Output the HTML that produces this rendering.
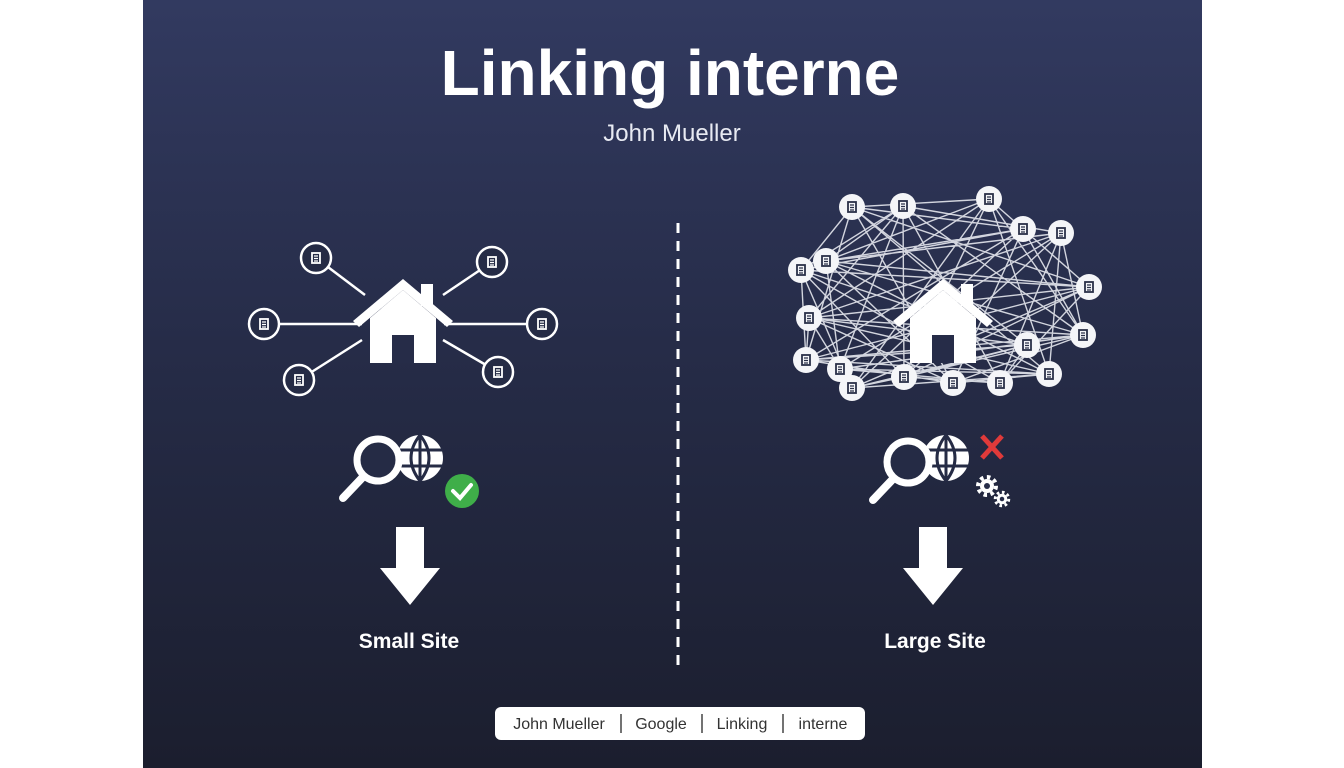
<!DOCTYPE html>
<html><head><meta charset="utf-8"><style>
html,body{margin:0;padding:0;width:1344px;height:768px;overflow:hidden;background:#fff}
.panel{position:absolute;left:143px;top:0;width:1059px;height:768px;background:linear-gradient(180deg,#323a60 0%,#262c48 45%,#1b1e2e 100%)}
svg{position:absolute;left:0;top:0}
text{font-family:"Liberation Sans",sans-serif}
</style></head><body>
<div class="panel"></div>
<svg width="1344" height="768" viewBox="0 0 1344 768">
<defs>
<g id="doc"><rect x="-4" y="-5" width="8" height="10" fill="none" stroke="currentColor" stroke-width="1.8"/><path d="M-2 -2H2M-2 0.5H2M-2 3H2" stroke="currentColor" stroke-width="1.2"/></g>
<g id="house"><path fill="#fff" d="M-50 0 L0 -42 L50 0 L44 6 L0 -31 L-44 6 Z"/><rect fill="#fff" x="18" y="-37" width="12" height="22"/><path fill="#fff" d="M-33 -3 L0 -31 L33 -3 V42 H-33 Z"/><rect x="-11" y="14" width="22" height="28" fill="#262c48"/></g>
<g id="gear" fill="#fff"><circle r="7"/><circle r="9" fill="none" stroke="#fff" stroke-width="4" stroke-dasharray="3.5,3.5"/><circle r="3" fill="#262c48"/></g>
</defs>
<text x="670" y="95" text-anchor="middle" font-size="64" font-weight="bold" fill="#fff">Linking interne</text>
<text x="672" y="141" text-anchor="middle" font-size="24" fill="#e8eaf2">John Mueller</text>
<line x1="678" y1="223" x2="678" y2="668" stroke="#fff" stroke-width="3" stroke-dasharray="10,8"/>
<g stroke="#fff" stroke-width="2.5">
<line x1="316" y1="258" x2="365" y2="295"/><line x1="492" y1="262" x2="443" y2="295"/>
<line x1="264" y1="324" x2="362" y2="324"/><line x1="542" y1="324" x2="444" y2="324"/>
<line x1="299" y1="380" x2="362" y2="340"/><line x1="498" y1="372" x2="443" y2="340"/>
</g>
<g fill="#252b45" stroke="#fff" stroke-width="2.5">
<circle cx="316" cy="258" r="15"/><circle cx="492" cy="262" r="15"/><circle cx="264" cy="324" r="15"/><circle cx="542" cy="324" r="15"/><circle cx="299" cy="380" r="15"/><circle cx="498" cy="372" r="15"/>
</g>
<g color="#fff"><use href="#doc" x="316" y="258"/><use href="#doc" x="492" y="262"/><use href="#doc" x="264" y="324"/><use href="#doc" x="542" y="324"/><use href="#doc" x="299" y="380"/><use href="#doc" x="498" y="372"/></g>
<use href="#house" x="403" y="321"/>
<circle cx="420" cy="458" r="23" fill="#fff"/>
<g stroke="#252b45" stroke-width="3" fill="none"><line x1="420" y1="435" x2="420" y2="481"/><line x1="398" y1="450" x2="443" y2="450"/><line x1="398" y1="466" x2="443" y2="466"/><path d="M420 435 Q402 458 420 481 M420 435 Q438 458 420 481"/></g>
<circle cx="378" cy="460" r="21" fill="#252b45" stroke="#fff" stroke-width="7"/>
<line x1="362" y1="478" x2="343" y2="498" stroke="#fff" stroke-width="8" stroke-linecap="round"/>
<circle cx="462" cy="491" r="17" fill="#3fae49"/>
<path d="M453 491 L460 498 L471 485" fill="none" stroke="#fff" stroke-width="4" stroke-linecap="round"/>
<path d="M396 527 H424 V568 H440 L410 605 L380 568 H396 Z" fill="#fff"/>
<text x="409" y="648" text-anchor="middle" font-size="21" font-weight="bold" fill="#fff">Small Site</text>
<path stroke="#e6e8ee" stroke-width="1.4" fill="none" opacity="0.9" d="
M852 207L1023 229M852 207L1089 287M852 207L953 383M852 207L806 360M852 207L1049 374M852 207L989 199M852 207L1027 345
M903 206L801 270M903 206L1083 335M903 206L840 369M903 206L1000 383M903 206L1061 233M903 206L809 318M903 206L904 377
M989 199L826 261M989 199L809 318M989 199L852 388M989 199L1083 335M989 199L1049 374M989 199L904 377M989 199L1089 287
M1023 229L801 270M1023 229L806 360M1023 229L953 383M1023 229L1083 335M1023 229L852 388M1023 229L826 261
M1061 233L809 318M1061 233L840 369M1061 233L1000 383M1061 233L1049 374M1061 233L826 261M1061 233L904 377
M801 270L1089 287M801 270L1027 345M801 270L904 377M801 270L1000 383M801 270L852 388M801 270L806 360
M826 261L1083 335M826 261L1049 374M826 261L953 383M826 261L840 369M826 261L1089 287
M1089 287L809 318M1089 287L806 360M1089 287L904 377M1089 287L1000 383M1089 287L852 388
M809 318L1083 335M809 318L1049 374M809 318L953 383M809 318L1027 345M809 318L852 388
M1083 335L806 360M1083 335L840 369M1083 335L904 377M1083 335L953 383
M1027 345L806 360M1027 345L852 388M1027 345L904 377M1027 345L1000 383
M806 360L1049 374M806 360L953 383M840 369L1000 383M840 369L1049 374M852 388L1049 374M852 388L904 377M904 377L1000 383M953 383L1049 374
M826 261L903 206M801 270L852 207M1023 229L1089 287M1061 233L1083 335M809 318L806 360M840 369L852 388"/>
<use href="#house" x="943" y="321"/>
<g fill="#f4f5f8">
<circle cx="852" cy="207" r="13"/><circle cx="903" cy="206" r="13"/><circle cx="989" cy="199" r="13"/><circle cx="1023" cy="229" r="13"/><circle cx="1061" cy="233" r="13"/><circle cx="801" cy="270" r="13"/><circle cx="826" cy="261" r="13"/><circle cx="1089" cy="287" r="13"/><circle cx="809" cy="318" r="13"/><circle cx="1083" cy="335" r="13"/><circle cx="1027" cy="345" r="13"/><circle cx="806" cy="360" r="13"/><circle cx="840" cy="369" r="13"/><circle cx="852" cy="388" r="13"/><circle cx="904" cy="377" r="13"/><circle cx="953" cy="383" r="13"/><circle cx="1000" cy="383" r="13"/><circle cx="1049" cy="374" r="13"/>
</g>
<g color="#2a3048"><use href="#doc" x="852" y="207"/><use href="#doc" x="903" y="206"/><use href="#doc" x="989" y="199"/><use href="#doc" x="1023" y="229"/><use href="#doc" x="1061" y="233"/><use href="#doc" x="801" y="270"/><use href="#doc" x="826" y="261"/><use href="#doc" x="1089" y="287"/><use href="#doc" x="809" y="318"/><use href="#doc" x="1083" y="335"/><use href="#doc" x="1027" y="345"/><use href="#doc" x="806" y="360"/><use href="#doc" x="840" y="369"/><use href="#doc" x="852" y="388"/><use href="#doc" x="904" y="377"/><use href="#doc" x="953" y="383"/><use href="#doc" x="1000" y="383"/><use href="#doc" x="1049" y="374"/></g>
<circle cx="946" cy="458" r="23" fill="#fff"/>
<g stroke="#252b45" stroke-width="3" fill="none"><line x1="946" y1="435" x2="946" y2="481"/><line x1="924" y1="450" x2="969" y2="450"/><line x1="924" y1="466" x2="969" y2="466"/><path d="M946 435 Q928 458 946 481 M946 435 Q964 458 946 481"/></g>
<circle cx="908" cy="462" r="21" fill="#252b45" stroke="#fff" stroke-width="7"/>
<line x1="892" y1="480" x2="873" y2="500" stroke="#fff" stroke-width="8" stroke-linecap="round"/>
<path d="M982 436 L1002 458 M1002 436 L982 458" stroke="#e03a3a" stroke-width="5"/>
<use href="#gear" x="987" y="486"/>
<use href="#gear" transform="translate(1002 499) scale(0.75)"/>
<path d="M919 527 H947 V568 H963 L933 605 L903 568 H919 Z" fill="#fff"/>
<text x="935" y="648" text-anchor="middle" font-size="21" font-weight="bold" fill="#fff">Large Site</text>
<rect x="495" y="707" width="370" height="33" rx="6" fill="#fff"/>
<g font-size="16" fill="#333">
<text x="559" y="729" text-anchor="middle">John Mueller</text>
<text x="661" y="729" text-anchor="middle">Google</text>
<text x="742" y="729" text-anchor="middle">Linking</text>
<text x="823" y="729" text-anchor="middle">interne</text>
</g>
<g stroke="#444" stroke-width="1.5"><line x1="621" y1="714" x2="621" y2="733"/><line x1="702" y1="714" x2="702" y2="733"/><line x1="783" y1="714" x2="783" y2="733"/></g>
</svg>
</body></html>
